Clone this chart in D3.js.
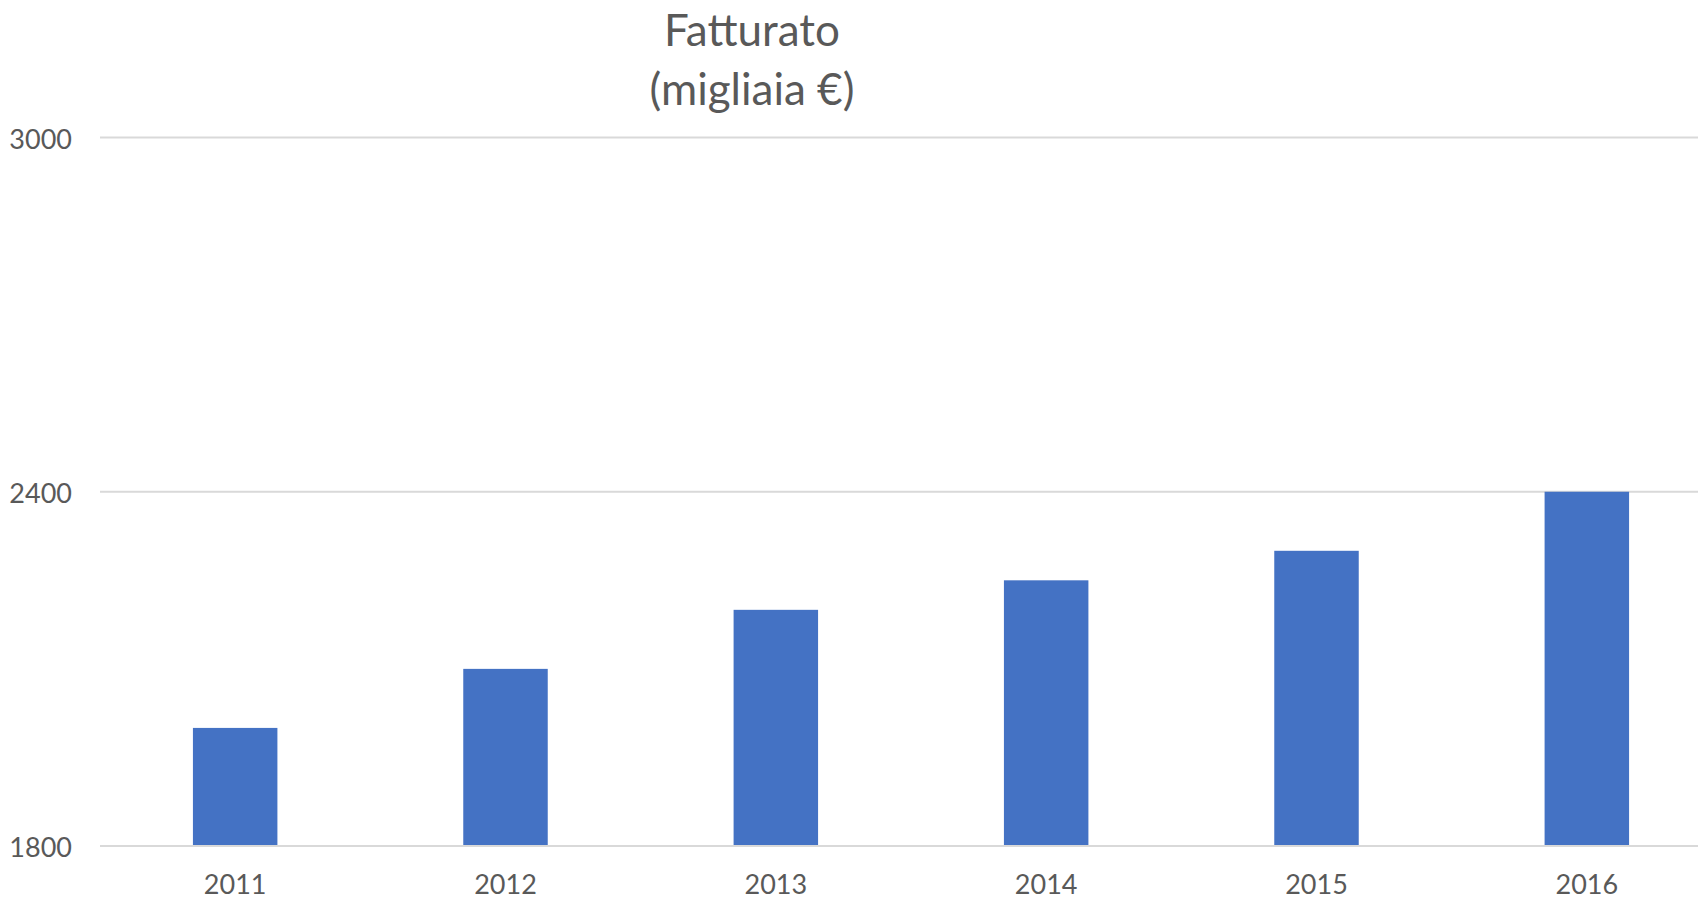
<!DOCTYPE html>
<html>
<head>
<meta charset="utf-8">
<script src="https://cdn.jsdelivr.net/npm/d3@7"></script>
<style>
  html, body { margin: 0; padding: 0; background: #fff; overflow: hidden; }
  svg { display: block; }
</style>
</head>
<body>
<svg id="chart" width="1698" height="900"></svg>
<script>
const categories = ["2011", "2012", "2013", "2014", "2015", "2016"];
const values = [2000, 2100, 2200, 2250, 2300, 2400];
const yTicks = [1800, 2400, 3000];
const titleLines = ["Fatturato", "(migliaia €)"];

const W = 1698, H = 900;
const margin = { left: 100, right: -24, top: 137.5, bottom: 54 };
const font = "Lato, 'Open Sans', sans-serif";
const textColor = "#595959";

const svg = d3.select("#chart");

const x = d3.scaleBand()
  .domain(categories)
  .range([margin.left, W - margin.right])
  .paddingInner(0.6875)
  .paddingOuter(0.34375);

const y = d3.scaleLinear()
  .domain([1800, 3000])
  .range([H - margin.bottom, margin.top]);

// gridlines
svg.append("g")
  .selectAll("line")
  .data(yTicks)
  .join("line")
  .attr("x1", margin.left)
  .attr("x2", W)
  .attr("y1", d => y(d))
  .attr("y2", d => y(d))
  .attr("stroke", "#d9d9d9")
  .attr("stroke-width", 2);

// y axis labels
const yAxis = d3.axisLeft(y).tickValues(yTicks).tickSize(0).tickPadding(0).tickFormat(d3.format("d"));
const gy = svg.append("g").attr("transform", `translate(72,2)`).call(yAxis);
gy.select(".domain").remove();
gy.selectAll("text")
  .attr("fill", textColor)
  .style("font-family", font)
  .style("font-size", "27px");

// bars
svg.append("g")
  .selectAll("rect")
  .data(categories.map((c, i) => ({ c, v: values[i] })))
  .join("rect")
  .attr("x", d => x(d.c))
  .attr("width", x.bandwidth())
  .attr("y", d => y(d.v))
  .attr("height", d => y(1800) - y(d.v) - 1)
  .attr("fill", "#4472c4");

// x axis labels
const xAxis = d3.axisBottom(x).tickSize(0).tickPadding(0);
const gx = svg.append("g").attr("transform", `translate(0,${H - margin.bottom + 29})`).call(xAxis);
gx.select(".domain").remove();
gx.selectAll("text")
  .attr("fill", textColor)
  .attr("dy", "0.71em")
  .style("font-family", font)
  .style("font-size", "27px");

// title
svg.append("g")
  .selectAll("text")
  .data(titleLines)
  .join("text")
  .attr("x", 752)
  .attr("y", (d, i) => 46 + i * 59)
  .attr("text-anchor", "middle")
  .attr("fill", textColor)
  .style("font-family", font)
  .style("font-size", "44px")
  .text(d => d);
</script>
</body>
</html>
